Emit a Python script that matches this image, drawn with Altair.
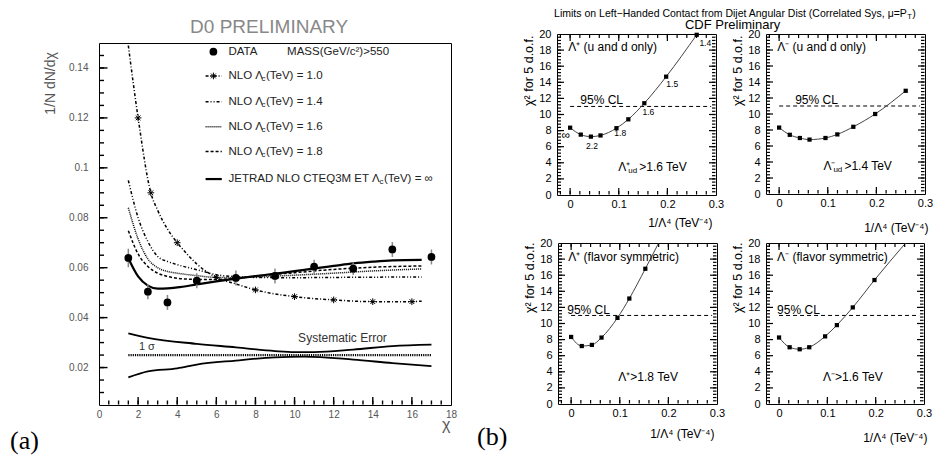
import altair as alt
import pandas as pd

# ================= Panel (a): D0 dijet angular distribution =================
chi_data = [1.5, 2.5, 3.5, 5.0, 7.0, 9.0, 11.0, 13.0, 15.0, 17.0]
dndchi_data = [0.0639, 0.0504, 0.0461, 0.0548, 0.0559, 0.0567, 0.0604, 0.0596, 0.0673, 0.0643]
dndchi_err = [0.0037, 0.0030, 0.0030, 0.0030, 0.0030, 0.0030, 0.0028, 0.0025, 0.0030, 0.0030]

chi_l10 = [1.5, 2.0, 2.65, 3.0, 3.5, 4.0, 4.5, 5.0, 6.0, 7.0, 8.0, 10.0, 12.0, 14.0, 16.0, 16.5]
nlo_l10 = [0.149, 0.120, 0.090, 0.083, 0.0755, 0.070, 0.0655, 0.0615, 0.0561, 0.0535, 0.0511,
           0.0484, 0.0471, 0.0464, 0.0464, 0.0466]
chi_l10_marks = [2.0, 2.65, 4.0, 6.0, 8.0, 10.0, 12.0, 14.0, 16.0]
nlo_l10_marks = [0.120, 0.090, 0.070, 0.0561, 0.0511, 0.0484, 0.0471, 0.0464, 0.0464]

chi_nlo = [1.5, 2.0, 2.5, 3.0, 3.5, 4.0, 5.0, 6.0, 7.0, 8.0, 10.0, 12.0, 14.0, 16.5]
nlo_l14 = [0.095, 0.080, 0.0705, 0.0645, 0.0625, 0.0612, 0.0592, 0.0572, 0.0564, 0.0561, 0.056, 0.0561, 0.0562, 0.0563]
nlo_l16 = [0.084, 0.0715, 0.0635, 0.0600, 0.0585, 0.0578, 0.0568, 0.0561, 0.056, 0.0563, 0.057, 0.0578, 0.0587, 0.0595]
nlo_l18 = [0.0748, 0.0655, 0.0605, 0.0578, 0.0565, 0.0558, 0.0553, 0.0553, 0.0558, 0.0566, 0.058, 0.0593, 0.0602, 0.0607]

chi_jetrad = [1.5, 2.0, 2.5, 3.0, 3.5, 4.0, 5.0, 6.0, 7.0, 8.0, 9.0, 10.0, 11.0, 12.0, 13.0, 14.0, 15.0, 16.5]
jetrad = [0.0638, 0.0565, 0.0528, 0.0516, 0.0517, 0.0521, 0.0533, 0.0545, 0.0556, 0.0566, 0.0576,
          0.0586, 0.0597, 0.0607, 0.0617, 0.0624, 0.0629, 0.0631]

chi_sys_hi = [1.5, 2.5, 5.0, 7.0, 9.0, 10.0, 11.0, 13.0, 15.0, 17.0]
sys_hi = [0.0337, 0.0319, 0.0295, 0.0281, 0.0266, 0.0262, 0.0262, 0.0272, 0.0286, 0.0292]
chi_sys_lo = [1.5, 2.5, 4.0, 5.0, 7.0, 9.0, 10.5, 13.0, 15.0, 17.0]
sys_lo = [0.0161, 0.0185, 0.0197, 0.0212, 0.0228, 0.0241, 0.0244, 0.0232, 0.0218, 0.0206]
chi_sys_mid = [1.5, 17.0]
sys_mid = [0.025, 0.025]

# ================= Panel (b): CDF chi^2 vs 1/Lambda^4 =================
inv_lambda4 = [0.0, 0.0219, 0.0427, 0.0625, 0.0953, 0.1197, 0.1526, 0.1975, 0.2603]
chi2_plus_ud = [8.36, 7.5, 7.25, 7.4, 8.3, 9.4, 11.4, 14.7, 19.9]
chi2_minus_ud = [8.3, 7.4, 7.0, 6.8, 7.0, 7.45, 8.4, 10.0, 12.9]
chi2_plus_fs = [8.33, 7.2, 7.34, 8.25, 10.7, 13.1, 16.8]
chi2_minus_fs = [8.26, 7.05, 6.8, 7.05, 8.4, 9.8, 12.0, 15.4]
curve_end_plus_fs = [0.18, 20.0]
curve_end_minus_fs = [0.262, 20.0]
cl95 = 11.0
lambda_marks_ud = ["∞", "2.2", "1.8", "1.6", "1.5", "1.4"]

# ================= layout helpers =================
W, H = 925, 448
FONT = "Liberation Sans"
SERIF = "Liberation Serif"
ASTERISK = "M-1,0L1,0M0,-1L0,1M-0.7,-0.7L0.7,0.7M-0.7,0.7L0.7,-0.7"


def scale(domain, rng):
    return alt.Scale(domain=domain, range=rng, nice=False, zero=False)


def axis_layer(ch, sc, dom, **kw):
    kw.setdefault("grid", False)
    kw.setdefault("labelFlush", False)
    kw.setdefault("title", None)
    df = pd.DataFrame({"v": [dom[0], dom[1]]})
    ax = alt.Axis(**kw)
    if ch == "x":
        enc = dict(x=alt.X("v:Q", scale=sc, axis=ax))
    else:
        enc = dict(y=alt.Y("v:Q", scale=sc, axis=ax))
    return alt.Chart(df).mark_point(opacity=0, size=0).encode(**enc)


def frame_axes(xs, xdom, ys, ydom, L, R, T, B, xlab, ylab):
    out = []
    out.append(axis_layer("y", ys, ydom, orient="left", offset=-L, ticks=False, tickSize=0,
                          domain=True, domainColor="black", domainWidth=1, **ylab))
    out.append(axis_layer("y", ys, ydom, orient="left", offset=-R, labels=False, ticks=False,
                          domain=True, domainColor="black", domainWidth=1))
    out.append(axis_layer("x", xs, xdom, orient="bottom", offset=B - H, ticks=False, tickSize=0,
                          domain=True, domainColor="black", domainWidth=1, **xlab))
    out.append(axis_layer("x", xs, xdom, orient="bottom", offset=T - H, labels=False, ticks=False,
                          domain=True, domainColor="black", domainWidth=1))
    return out


def xy(xs, ys, fx="x", fy="y"):
    return dict(x=alt.X(f"{fx}:Q", scale=xs, axis=None), y=alt.Y(f"{fy}:Q", scale=ys, axis=None))


def inward_ticks(xs, xdom, ys, ydom, frame, xticks, yticks, all_sides, width):
    """PAW-style tick marks inside the frame, drawn as short rules."""
    L, R, T, B = frame
    kx = (xdom[1] - xdom[0]) / (R - L)
    ky = (ydom[1] - ydom[0]) / (B - T)
    ex, ey = 0.5 * kx, 0.5 * ky
    hrows, vrows = [], []
    for vals, size in yticks:
        v = [t for t in vals if ydom[0] < t < ydom[1]]
        sides = [(xdom[0] + ex, 1)] + ([(xdom[1] - ex, -1)] if all_sides else [])
        for x0, sgn in sides:
            for t in v:
                a, b = x0, x0 + sgn * size * kx
                hrows.append({"pos": t, "lo": min(a, b), "hi": max(a, b)})
    for vals, size in xticks:
        v = [t for t in vals if xdom[0] < t < xdom[1]]
        sides = [(ydom[0] + ey, 1)] + ([(ydom[1] - ey, -1)] if all_sides else [])
        for y0, sgn in sides:
            for t in v:
                a, b = y0, y0 + sgn * size * ky
                vrows.append({"pos": t, "lo": min(a, b), "hi": max(a, b)})
    hdf, vdf = pd.DataFrame(hrows), pd.DataFrame(vrows)
    return [
        alt.Chart(hdf).mark_rule(color="black", strokeWidth=width).encode(
            y=alt.Y("pos:Q", scale=ys, axis=None), x=alt.X("lo:Q", scale=xs, axis=None), x2="hi:Q"),
        alt.Chart(vdf).mark_rule(color="black", strokeWidth=width).encode(
            x=alt.X("pos:Q", scale=xs, axis=None), y=alt.Y("lo:Q", scale=ys, axis=None), y2="hi:Q"),
    ]


def line(xs, ys, xv, yv, **mk):
    df = pd.DataFrame({"x": xv, "y": yv})
    return alt.Chart(df).mark_line(**mk).encode(**xy(xs, ys))


def text(xs, ys, x, y, s, **mk):
    mk.setdefault("font", FONT)
    df = pd.DataFrame({"x": [x], "y": [y], "t": [s]})
    return alt.Chart(df).mark_text(**mk).encode(text="t:N", **xy(xs, ys))


# ================= Panel (a) =================
xa_dom, ya_dom = [0, 18], [0.005, 0.15]
frame_a = (91, 443, 35, 397)
xa = scale(xa_dom, [frame_a[0], frame_a[1]])
ya = scale(ya_dom, [frame_a[3], frame_a[2]])

la = []
y_minor_a = [round(0.005 * k, 3) for k in range(1, 30)]
y_major_a = [0.02, 0.04, 0.06, 0.08, 0.1, 0.12, 0.14]
x_minor_a = [0.5 * k for k in range(1, 36)]
x_major_a = list(range(2, 18, 2))
# systematic error band
la.append(line(xa, ya, chi_sys_hi, sys_hi, color="black", strokeWidth=1.8, interpolate="monotone"))
la.append(line(xa, ya, chi_sys_lo, sys_lo, color="black", strokeWidth=1.8, interpolate="monotone"))
la.append(line(xa, ya, chi_sys_mid, sys_mid, color="black", strokeWidth=2.2, strokeDash=[1.2, 1]))
# theory curves
la.append(line(xa, ya, chi_l10, nlo_l10, color="black", strokeWidth=1.5, strokeDash=[3, 2, 1, 2], interpolate="monotone"))
la.append(line(xa, ya, chi_nlo, nlo_l14, color="black", strokeWidth=1.5, strokeDash=[3, 2, 1, 2, 1, 2], interpolate="monotone"))
la.append(line(xa, ya, chi_nlo, nlo_l16, color="black", strokeWidth=1.5, strokeDash=[1, 1], interpolate="monotone"))
la.append(line(xa, ya, chi_nlo, nlo_l18, color="black", strokeWidth=1.5, strokeDash=[3, 2], interpolate="monotone"))
la.append(line(xa, ya, chi_jetrad, jetrad, color="black", strokeWidth=2.2, interpolate="monotone"))
la.append(alt.Chart(pd.DataFrame({"x": chi_l10_marks, "y": nlo_l10_marks})).mark_point(
    shape=ASTERISK, size=45, color="black", strokeWidth=1, filled=False, opacity=1).encode(**xy(xa, ya)))
# data with error bars
dfa = pd.DataFrame({"x": chi_data, "y": dndchi_data, "e": dndchi_err})
dfa["lo"] = dfa["y"] - dfa["e"]
dfa["hi"] = dfa["y"] + dfa["e"]
la.append(alt.Chart(dfa).mark_rule(color="#888", strokeWidth=1.5).encode(
    x=alt.X("x:Q", scale=xa, axis=None), y=alt.Y("lo:Q", scale=ya, axis=None), y2="hi:Q"))
la.append(alt.Chart(dfa).mark_circle(size=60, color="black", opacity=1).encode(**xy(xa, ya)))

# legend (positions in data units of panel a)
leg_y = [0.1465, 0.1368, 0.1265, 0.1165, 0.1065, 0.0955]
leg_sym, leg_seg, leg_txt = 5.85, [5.45, 6.28], 6.62
lt = dict(fontSize=11.5, align="left", color="#222")
la.append(alt.Chart(pd.DataFrame({"x": [leg_sym], "y": [leg_y[0]]})).mark_circle(size=60, color="black", opacity=1).encode(**xy(xa, ya)))
la.append(text(xa, ya, leg_txt, leg_y[0], "DATA", **lt))
la.append(text(xa, ya, 9.62, leg_y[0], "MASS(GeV/c²)>550", **lt))
styles = [dict(strokeDash=[3, 2, 1, 2]), dict(strokeDash=[3, 2, 1, 2, 1, 2]), dict(strokeDash=[1, 1]),
          dict(strokeDash=[3, 2]), dict(strokeWidth=2.2)]
labels_a = ["1.0", "1.4", "1.6", "1.8"]
for i, st in enumerate(styles):
    yy = leg_y[i + 1]
    kw = dict(color="black", strokeWidth=1.5)
    kw.update(st)
    la.append(line(xa, ya, leg_seg, [yy, yy], **kw))
    if i < 4:
        la.append(text(xa, ya, leg_txt, yy, "NLO Λ", **lt))
        la.append(text(xa, ya, leg_txt, yy, "c", dx=33, dy=3, fontSize=8, align="left", color="#222"))
        la.append(text(xa, ya, leg_txt, yy, "(TeV) = " + labels_a[i], dx=37.5, **lt))
    else:
        la.append(text(xa, ya, leg_txt, yy, "JETRAD NLO CTEQ3M ET Λ", **lt))
        la.append(text(xa, ya, leg_txt, yy, "c", dx=151, dy=3, fontSize=8, align="left", color="#222"))
        la.append(text(xa, ya, leg_txt, yy, "(TeV) = ∞", dx=155.5, **lt))
la.append(alt.Chart(pd.DataFrame({"x": [leg_sym], "y": [leg_y[1]]})).mark_point(
    shape=ASTERISK, size=45, color="black", strokeWidth=1, filled=False, opacity=1).encode(**xy(xa, ya)))

la.append(text(xa, ya, 12.45, 0.0318, "Systematic Error", fontSize=12, color="#333"))
la.append(text(xa, ya, 2.45, 0.0282, "1 σ", fontSize=11, color="#333"))
la.append(text(xa, ya, 8.7, 0.1563, "D0 PRELIMINARY", fontSize=19, color="#888"))
la.append(text(xa, ya, -4.55, -0.0094, "(a)", font=SERIF, fontSize=26, align="left", color="black"))
la.append(text(xa, ya, 19.33, -0.0078, "(b)", font=SERIF, fontSize=26, align="left", color="black"))
# panel (b) headers (placed in panel a's coordinate frame)
hx, hy = 41.31, 0.1638
la.append(text(xa, ya, hx, hy, "Limits on Left−Handed Contact from Dijet Angular Dist (Correlated Sys, μ=P",
               fontSize=10.5, align="right", baseline="top", color="black"))
la.append(text(xa, ya, hx, hy, "T", dx=0.5, dy=4, fontSize=7.5, align="left", baseline="top", color="black"))
la.append(text(xa, ya, hx, hy, ")", dx=5.5, fontSize=10.5, align="left", baseline="top", color="black"))
la.append(text(xa, ya, 32.4, 0.1572, "CDF Preliminary", fontSize=13, color="black"))

la += inward_ticks(xa, xa_dom, ya, ya_dom, frame_a,
                   xticks=[(x_minor_a, 4), (x_major_a, 7.5)],
                   yticks=[(y_minor_a, 4.5), (y_major_a, 8)], all_sides=False, width=1.4)
la += frame_axes(
    xa, xa_dom, ya, ya_dom, *frame_a,
    xlab=dict(values=list(range(0, 19, 2)), format="d", labelFont=FONT, labelFontSize=10, labelColor="#555",
              labelPadding=4, title="χ", titleFont=FONT, titleFontSize=16, titleFontWeight="normal",
              titleColor="#555", titleX=442, titleY=27, titleAlign="right", titleBaseline="bottom"),
    ylab=dict(values=y_major_a, format="~g", labelFont=FONT, labelFontSize=10, labelColor="#555", labelPadding=11,
              title="1/N dN/dχ", titleFont=FONT, titleFontSize=14, titleFontWeight="normal", titleColor="#555",
              titleX=-42, titleY=75, titleAngle=270, titleAlign="center", titleBaseline="bottom"),
)
panel_a = alt.layer(*la).resolve_axis(x="independent", y="independent")

# ================= Panel (b) =================
xb_dom, yb_dom = [-0.027, 0.3], [0, 20]
x_minor_b = [round(0.02 * k, 2) for k in range(-1, 15)]
x_major_b = [0.0, 0.1, 0.2]
y_minor_b = [round(0.4 * k, 1) for k in range(1, 50)]
y_major_b = list(range(2, 20, 2))


def panel_b(frame, yvals, curve_end, anno, xtitle_pos, ytitle_y):
    L, R, T, B = frame
    xs = scale(xb_dom, [L, R])
    ys = scale(yb_dom, [B, T])
    n = len(yvals)
    cx = inv_lambda4[:n] + ([curve_end[0]] if curve_end else [])
    cy = list(yvals) + ([curve_end[1]] if curve_end else [])
    lay = [
        line(xs, ys, [0.0, 0.29], [cl95, cl95], color="black", strokeWidth=1, strokeDash=[4, 3]),
        line(xs, ys, cx, cy, color="#444", strokeWidth=1, interpolate="monotone"),
        alt.Chart(pd.DataFrame({"x": inv_lambda4[:n], "y": yvals})).mark_point(
            shape="square", filled=True, size=18, color="black", opacity=1).encode(**xy(xs, ys)),
    ]
    lay += anno(xs, ys)
    lay += inward_ticks(xs, xb_dom, ys, yb_dom, frame,
                        xticks=[(x_minor_b, 3.5), (x_major_b, 6.5)],
                        yticks=[(y_minor_b, 3.5), (y_major_b, 6.5)], all_sides=True, width=1.2)
    lay += frame_axes(
        xs, xb_dom, ys, yb_dom, L, R, T, B,
        xlab=dict(values=[0.0, 0.1, 0.2, 0.3], format="~g", labelFont=FONT, labelFontSize=11, labelColor="black",
                  labelPadding=3, title="1/Λ⁴ (TeV⁻⁴)", titleFont=FONT, titleFontSize=12,
                  titleFontWeight="normal", titleColor="black", titleX=xtitle_pos[0], titleY=xtitle_pos[1],
                  titleAlign="right", titleBaseline="middle"),
        ylab=dict(values=list(range(0, 21, 2)), format="d", labelFont=FONT, labelFontSize=11, labelColor="black",
                  labelPadding=6, title="χ² for 5 d.o.f.", titleFont=FONT, titleFontSize=12.5,
                  titleFontWeight="normal", titleColor="black", titleX=-22, titleY=ytitle_y,
                  titleAngle=270, titleAlign="right", titleBaseline="bottom"),
    )
    return alt.layer(*lay).resolve_axis(x="independent", y="independent")


at = dict(fontSize=12, align="left", color="black")


def anno_tl(xs, ys):
    out = [
        text(xs, ys, -0.004, 18.4, "Λ⁺ (u and d only)", **at),
        text(xs, ys, 0.021, 11.8, "95% CL", **at),
        text(xs, ys, 0.099, 3.5, "Λ⁺", **at),
        text(xs, ys, 0.099, 3.5, "ud", dx=10, dy=4, fontSize=8, align="left", color="black"),
        text(xs, ys, 0.099, 3.5, ">1.6 TeV", dx=21, **at),
    ]
    pos = [(-0.009, 7.45), (0.045, 6.1), (0.103, 7.7), (0.161, 10.3), (0.21, 13.8), (0.278, 18.9)]
    for (px, py), s in zip(pos, lambda_marks_ud):
        fs = 12 if s == "∞" else 8.5
        out.append(text(xs, ys, px, py, s, fontSize=fs, color="black"))
    return out


def anno_tr(xs, ys):
    return [
        text(xs, ys, -0.004, 18.4, "Λ⁻ (u and d only)", **at),
        text(xs, ys, 0.033, 11.8, "95% CL", **at),
        text(xs, ys, 0.091, 3.5, "Λ⁻", **at),
        text(xs, ys, 0.091, 3.5, "ud", dx=10, dy=4, fontSize=8, align="left", color="black"),
        text(xs, ys, 0.091, 3.5, ">1.4 TeV", dx=21, **at),
    ]


def anno_bl(xs, ys):
    return [
        text(xs, ys, -0.006, 18.3, "Λ⁺ (flavor symmetric)", **at),
        text(xs, ys, -0.008, 11.7, "95% CL", **at),
        text(xs, ys, 0.097, 3.35, "Λ⁺>1.8 TeV", **at),
    ]


def anno_br(xs, ys):
    return [
        text(xs, ys, -0.004, 18.3, "Λ⁻ (flavor symmetric)", **at),
        text(xs, ys, -0.004, 11.7, "95% CL", **at),
        text(xs, ys, 0.091, 3.35, "Λ⁻>1.6 TeV", **at),
    ]


p_tl = panel_b((549, 708, 26, 187), chi2_plus_ud, None, anno_tl, (704, 27), 27)
p_tr = panel_b((758, 917, 26, 186), chi2_minus_ud, None, anno_tr, (920, 33), 27)
p_bl = panel_b((550, 709, 235, 396), chi2_plus_fs, curve_end_plus_fs, anno_bl, (706, 29), 234)
p_br = panel_b((758, 916, 235, 396), chi2_minus_fs, curve_end_minus_fs, anno_br, (919, 33), 234)

chart = alt.layer(panel_a, p_tl, p_tr, p_bl, p_br).resolve_scale(
    x="independent", y="independent"
).properties(width=W, height=H, padding=0).configure_view(stroke=None)

chart.save("out.html", embed_options={"renderer": "svg", "actions": False})
